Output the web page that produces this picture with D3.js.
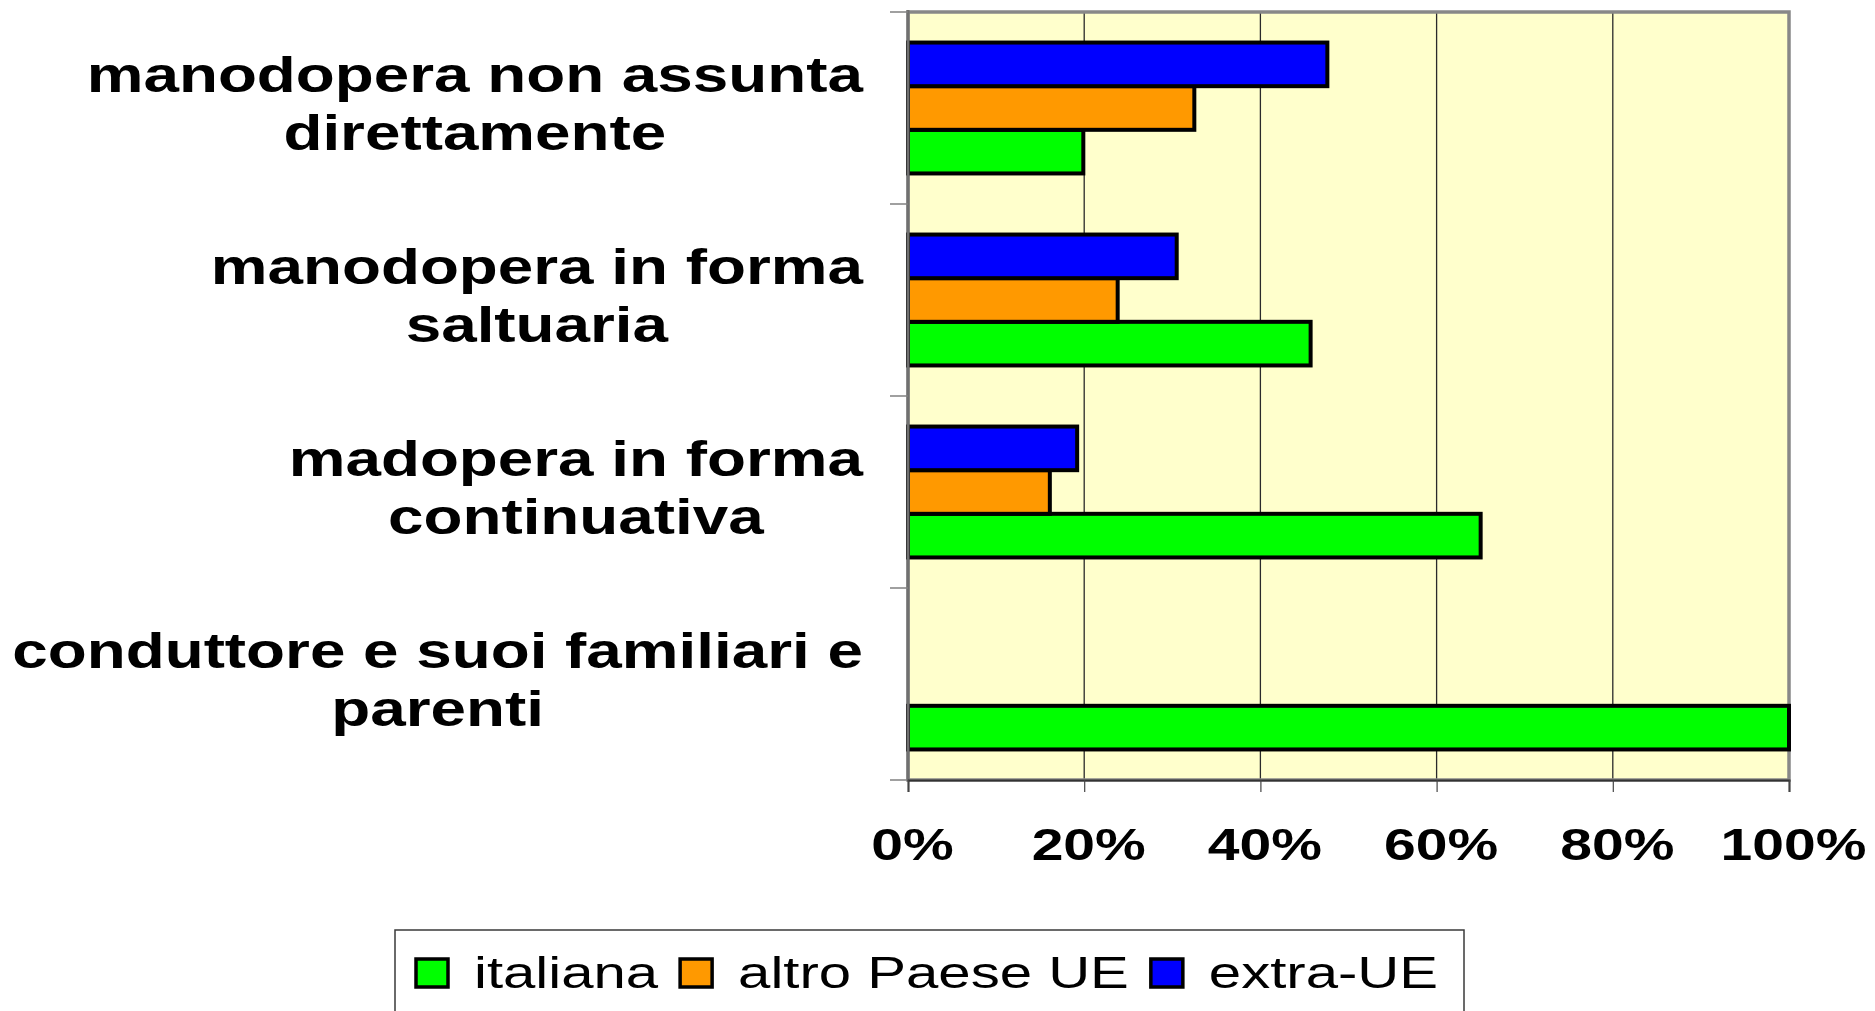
<!DOCTYPE html>
<html>
<head>
<meta charset="utf-8">
<script src="https://cdn.jsdelivr.net/npm/d3@7"></script>
<style>
  html, body { margin: 0; padding: 0; background: #ffffff; }
  svg { display: block; font-family: "Liberation Sans", Arial, sans-serif; }
</style>
</head>
<body>
<svg id="chart" width="1875" height="1011"></svg>
<script>
// Categories (top to bottom); "\n" marks the line break of the label
const categories = [
  "manodopera non assunta\ndirettamente",
  "manodopera in forma\nsaltuaria",
  "madopera in forma\ncontinuativa",
  "conduttore e suoi familiari e\nparenti"
];

// Series names as shown in the legend
const seriesNames = ["italiana", "altro Paese UE", "extra-UE"];
const seriesColors = ["#00ff00", "#ff9900", "#0000ff"];

// Shares (%) for each category, one array per series
const italiana = [19.9, 45.7, 65.0, 100];
const altroPaeseUE = [32.5, 23.8, 16.1, 0];
const extraUE = [47.6, 30.5, 19.2, 0];

const xTicks = [0, 20, 40, 60, 80, 100];

const seriesValues = [italiana, altroPaeseUE, extraUE];

// Horizontal stretch applied to the text
const SX = 1.276;
const SX_LEGEND = 1.30;
const FONT = "'Liberation Sans', Arial, sans-serif";

const svg = d3.select("#chart");

const plot = { left: 908, right: 1789, top: 12, bottom: 780 };

const x = d3.scaleLinear().domain([0, 100]).range([plot.left, plot.right]);
const y = d3.scaleBand().domain(categories).range([plot.top, plot.bottom]).paddingInner(0).paddingOuter(0);
// bars inside a band: extra-UE on top, italiana at the bottom
const yInner = d3.scaleBand()
  .domain(seriesNames.slice().reverse())
  .range([0, y.bandwidth()])
  .paddingInner(0)
  .paddingOuter(0.7);

// Plot area background
svg.append("rect")
  .attr("x", plot.left).attr("y", plot.top)
  .attr("width", plot.right - plot.left).attr("height", plot.bottom - plot.top)
  .attr("fill", "#ffffcc");

// Vertical gridlines
svg.append("g").selectAll("line")
  .data(xTicks.filter(t => t > 0 && t < 100))
  .join("line")
  .attr("x1", d => x(d)).attr("x2", d => x(d))
  .attr("y1", plot.top).attr("y2", plot.bottom)
  .attr("stroke", "#2a2a2a").attr("stroke-width", 1.3);

// Plot area frame
svg.append("rect")
  .attr("x", plot.left).attr("y", plot.top)
  .attr("width", plot.right - plot.left).attr("height", plot.bottom - plot.top)
  .attr("fill", "none").attr("stroke", "#888888").attr("stroke-width", 3.5);

// Bars
const rows = [];
categories.forEach((c, i) => {
  seriesNames.forEach((s, j) => {
    rows.push({ cat: c, series: s, value: seriesValues[j][i], color: seriesColors[j] });
  });
});

svg.append("g").selectAll("rect")
  .data(rows.filter(d => d.value > 0))
  .join("rect")
  .attr("x", x(0))
  .attr("y", d => y(d.cat) + yInner(d.series))
  .attr("width", d => x(d.value) - x(0))
  .attr("height", yInner.bandwidth())
  .attr("fill", d => d.color)
  .attr("stroke", "#000000")
  .attr("stroke-width", 4);

// Category axis line and tick marks at band boundaries
const yEdges = categories.map(c => y(c)).concat([plot.bottom]);
svg.append("line")
  .attr("x1", plot.left).attr("x2", plot.left)
  .attr("y1", plot.top - 2).attr("y2", plot.bottom)
  .attr("stroke", "#707070").attr("stroke-width", 3);
svg.append("g").selectAll("line")
  .data(yEdges)
  .join("line")
  .attr("x1", plot.left - 18).attr("x2", plot.left)
  .attr("y1", d => d).attr("y2", d => d)
  .attr("stroke", "#808080").attr("stroke-width", 1.5);

// Value axis
const xAxis = d3.axisBottom(x)
  .tickValues(xTicks)
  .tickSize(12)
  .tickFormat(d => d + "%");

const gx = svg.append("g")
  .attr("transform", `translate(0,${plot.bottom})`)
  .call(xAxis);
gx.select(".domain").attr("stroke", "#333333").attr("stroke-width", 2);
gx.selectAll(".tick line").attr("stroke", "#444444").attr("stroke-width", 1.2);
gx.selectAll(".tick text")
  .attr("y", 0).attr("dy", 0)
  .attr("transform", `translate(4,80) scale(${SX},1)`)
  .attr("fill", "#000")
  .style("font-family", FONT)
  .style("font-size", "44.7px")
  .style("font-weight", "bold");

// Category labels: two centred lines, block right-aligned beside the axis
const labelRight = 863;
const lineGap = 58;
const labelG = svg.append("g");
categories.forEach(c => {
  const lines = c.split("\n");
  const center = y(c) + y.bandwidth() / 2;
  const texts = lines.map(ln => labelG.append("text")
    .text(ln)
    .attr("text-anchor", "middle")
    .style("font-family", FONT)
    .style("font-size", "50px")
    .style("font-weight", "bold")
    .attr("fill", "#000"));
  const maxW = d3.max(texts, t => t.node().getComputedTextLength() * SX);
  const cx = labelRight - maxW / 2;
  const firstBaseline = center - 16 - (lines.length - 2) * lineGap / 2;
  texts.forEach((t, k) => {
    t.attr("transform", `translate(${cx},${firstBaseline + k * lineGap}) scale(${SX},1)`);
  });
});

// Legend
const legend = svg.append("g");
legend.append("rect")
  .attr("x", 395).attr("y", 930)
  .attr("width", 1069).attr("height", 120)
  .attr("fill", "#ffffff")
  .attr("stroke", "#3a3a3a").attr("stroke-width", 1.5);

let lx = 416;
seriesNames.forEach((s, j) => {
  legend.append("rect")
    .attr("x", lx).attr("y", 959)
    .attr("width", 32).attr("height", 28)
    .attr("fill", seriesColors[j])
    .attr("stroke", "#000").attr("stroke-width", 3.5);
  const tx = lx + 58;
  const t = legend.append("text")
    .text(s)
    .style("font-family", FONT)
    .style("font-size", "44.7px")
    .attr("fill", "#000")
    .attr("transform", `translate(${tx},988) scale(${SX_LEGEND},1)`);
  const w = t.node().getComputedTextLength() * SX_LEGEND;
  lx = tx + w + 22;
});
</script>
</body>
</html>
